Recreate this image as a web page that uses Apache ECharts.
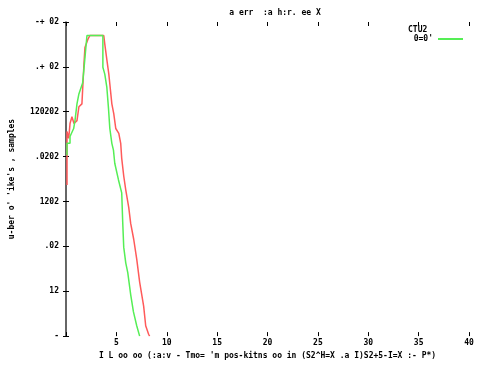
<!DOCTYPE html>
<html>
<head>
<meta charset="utf-8">
<script src="https://cdn.jsdelivr.net/npm/echarts@6/dist/echarts.min.js"></script>
<style>
  html, body { margin: 0; padding: 0; background: #fff; }
  #chart { width: 478px; height: 365px; }
</style>
</head>
<body>
<div id="chart"></div>
<script>
// x tick labels (0..40 step 5) and y tick labels (1 .. 1e7, one per decade), as printed
const xLabels = ['', '5', '10', '15', '20', '25', '30', '35', '40']
const yLabels = ['-', '12', '.02', '1202', '.0202', '120202', '.+ 02', '-+ 02']

// red series
const redX = [0.10, 0.10, 0.27, 0.40, 0.59, 0.79, 1.09, 1.28, 1.58, 1.78, 1.88, 2.17, 2.37, 3.75, 3.85, 4.05, 4.25, 4.35, 4.55, 4.74, 4.94, 5.24, 5.43, 5.53, 5.73, 5.93, 6.23, 6.42, 6.72, 7.02, 7.31, 7.71, 7.91, 8.20, 8.30]
const redY = [2340, 36300, 25500, 54500, 77600, 54500, 63400, 129000, 150000, 1140000, 2700000, 4100000, 5000000, 5000000, 3200000, 1470000, 690000, 415000, 150000, 91000, 42300, 33000, 19800, 9140, 3700, 1820, 730, 325, 144, 52, 16, 4.6, 1.7, 1.1, 1]

// green series
const greenX = [0.10, 0.10, 0.40, 0.40, 0.59, 0.76, 0.89, 1.09, 1.28, 1.38, 1.65, 1.78, 2.08, 3.66, 3.66, 3.85, 4.05, 4.22, 4.35, 4.55, 4.71, 4.84, 5.21, 5.53, 5.63, 5.73, 5.93, 6.13, 6.42, 6.69, 7.02, 7.31]
const greenY = [10700, 19800, 19800, 28000, 25500, 42300, 63400, 150000, 250000, 290000, 437000, 890000, 5000000, 5000000, 980000, 690000, 355000, 117000, 42300, 19800, 13900, 7100, 3020, 1560, 342, 96, 43, 26, 8.4, 3.5, 1.7, 1]

const pairs = (xs, ys) => xs.map((x, i) => [x, ys[i]])

const font = { fontFamily: 'DejaVu Sans Mono', fontSize: 8, fontWeight: 'bold', color: '#000' }

const chart = echarts.init(document.getElementById('chart'))
chart.setOption({
  animation: false,
  title: {
    text: 'a err  :a h:r. ee X',
    left: 270,
    textAlign: 'center',
    top: 4,
    textStyle: font
  },
  legend: {
    data: ["0=0'"],
    right: 15,
    top: 35,
    align: 'right',
    itemWidth: 25,
    itemHeight: 2,
    itemGap: 2,
    icon: 'rect',
    textStyle: font,
    padding: 0
  },
  graphic: [
    { type: 'text', left: 408, top: 26, style: { text: 'CTU2', font: 'bold 8px "DejaVu Sans Mono"', fill: '#000' } }
  ],
  grid: { left: 64, right: 9, top: 22, bottom: 25 },
  xAxis: [
    {
      type: 'value',
      min: 0,
      max: 40,
      interval: 5,
      name: "I L oo oo (:a:v - Tmo= 'm pos-kitns oo in (S2^H=X .a I)S2+5-I=X :- P*)",
      nameLocation: 'middle',
      nameGap: 15,
      nameTextStyle: font,
      axisLine: { show: false },
      axisTick: { show: true, inside: true, length: 4, lineStyle: { color: '#000' } },
      axisLabel: Object.assign({ margin: 3, formatter: v => xLabels[Math.round(v / 5)] }, font),
      splitLine: { show: false }
    },
    {
      type: 'value',
      position: 'top',
      min: 0,
      max: 40,
      interval: 5,
      axisLine: { show: false },
      axisTick: { show: true, inside: true, length: 4, lineStyle: { color: '#000' } },
      axisLabel: { show: false },
      splitLine: { show: false }
    }
  ],
  yAxis: [
    {
      type: 'log',
      logBase: 10,
      min: 1,
      max: 10000000,
      interval: 1,
      name: "u-ber o' 'ike's , samples",
      nameLocation: 'middle',
      nameGap: 50,
      nameRotate: 90,
      nameTextStyle: font,
      axisLine: { show: true, lineStyle: { color: '#333', width: 1.5 } },
      axisTick: { show: true, inside: true, length: 3, lineStyle: { color: '#000' } },
      axisLabel: Object.assign({ margin: 7, formatter: v => yLabels[Math.round(Math.log10(v))] }, font),
      splitLine: { show: false }
    },
    {
      type: 'log',
      logBase: 10,
      min: 1,
      max: 10000000,
      interval: 1,
      position: 'right',
      axisLine: { show: false },
      axisTick: { show: true, inside: true, length: 3, lineStyle: { color: '#000' } },
      axisLabel: { show: false },
      splitLine: { show: false }
    }
  ],
  series: [
    {
      name: 'red',
      type: 'line',
      data: pairs(redX, redY),
      showSymbol: false,
      lineStyle: { color: '#ff5a5a', width: 1.5 },
      itemStyle: { color: '#ff5a5a' }
    },
    {
      name: "0=0'",
      type: 'line',
      data: pairs(greenX, greenY),
      showSymbol: false,
      lineStyle: { color: '#55ee55', width: 1.5 },
      itemStyle: { color: '#55ee55' }
    }
  ]
})
</script>
</body>
</html>
